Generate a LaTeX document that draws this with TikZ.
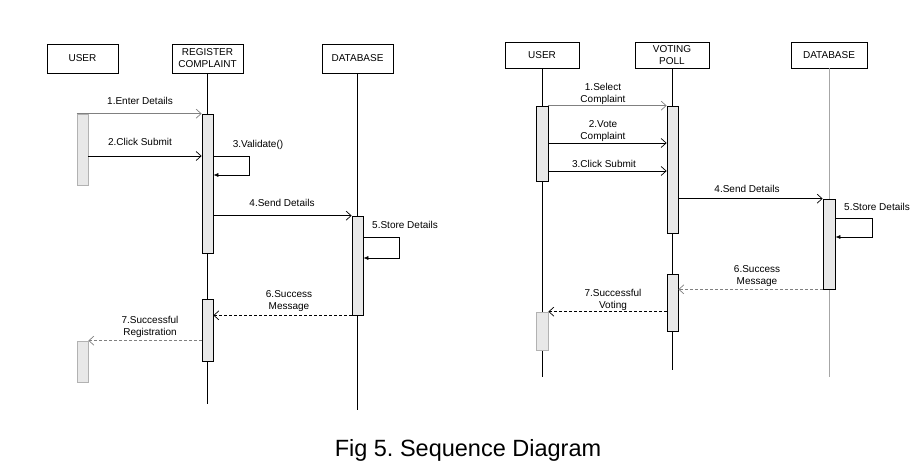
\documentclass[tikz,border=0pt]{standalone}
\usepackage{fontspec}
\setmainfont{Liberation Sans}
\usetikzlibrary{arrows.meta}
\frenchspacing

\begin{document}
\begin{tikzpicture}[
    x=1pt, y=-1pt,
    lifebox/.style={
        rectangle,
        draw=black,
        line width=0.7pt,
        minimum width=71pt,
        minimum height=29pt,
        inner sep=1pt,
        font=\fontsize{10}{12}\selectfont,
        align=center
    },
    actbar/.style={
        rectangle,
        draw=black,
        line width=0.7pt,
        fill=gray!18,
        minimum width=11pt,
        inner sep=0pt
    },
    msg_label/.style={
        font=\fontsize{10}{12}\selectfont,
        align=center
    },
    msg/.style={->, line width=0.7pt},
    reply/.style={->, line width=0.7pt, dash pattern=on 3pt off 2pt},
    selfmsg/.style={-{Latex[length=5pt,width=4pt]}, line width=0.7pt},
    >={Straight Barb[length=5pt,width=9pt]}
]
    \useasboundingbox (0,0) rectangle (916,462);

    % Left diagram: lifeline heads
    \node[lifebox] (userA) at (82.5, 58.5) {USER};
    \node[lifebox] (regA) at (207.5, 58.5) {REGISTER\\COMPLAINT};
    \node[lifebox] (dbA) at (357.5, 58.5) {DATABASE};

    % lifelines
    \coordinate (regA_end) at (207.5, 404);
    \coordinate (dbA_end) at (357.5, 410);
    \draw[line width=0.7pt] (regA.south) -- (regA_end);
    \draw[line width=0.7pt] (dbA.south) -- (dbA_end);

    % activation bars
    \node[actbar, draw=gray!60, minimum height=71pt] (ubarA1) at (82.5, 149.5) {};
    \node[actbar, draw=gray!60, minimum height=41pt] (ubarA2) at (82.5, 361.5) {};
    \node[actbar, minimum height=139pt] (rbarA1) at (207.5, 183.5) {};
    \node[actbar, minimum height=62pt] (rbarA2) at (207.5, 330) {};
    \node[actbar, minimum height=99pt] (dbbarA) at (357.5, 265.5) {};

    % message rows
    \coordinate (yA2) at (0, 156);
    \coordinate (yA3) at (0, 175);
    \coordinate (xA3) at (249, 0);
    \coordinate (yA5a) at (0, 237);
    \coordinate (yA5b) at (0, 258);
    \coordinate (xA5) at (399, 0);

    % messages
    \draw[msg, gray] (ubarA1.north west) -- (rbarA1.north west);
    \draw[msg] (ubarA1.east |- yA2) -- (rbarA1.west |- yA2);
    \draw[selfmsg] (rbarA1.east |- yA2) -- (xA3 |- yA2) -- (xA3 |- yA3) -- (rbarA1.east |- yA3);
    \draw[msg] (rbarA1.east |- dbbarA.north) -- (dbbarA.north west);
    \draw[selfmsg] (dbbarA.east |- yA5a) -- (xA5 |- yA5a) -- (xA5 |- yA5b) -- (dbbarA.east |- yA5b);
    \draw[reply] (dbbarA.south west) -- (rbarA2.east |- dbbarA.south);
    \draw[reply, gray] (rbarA2.west |- ubarA2.north) -- (ubarA2.north east);

    % labels
    \node[msg_label] (lA1) at (140, 101) {1.Enter Details};
    \node[msg_label] (lA2) at (140, 142) {2.Click Submit};
    \node[msg_label] (lA3) at (258, 145) {3.Validate()};
    \node[msg_label] (lA4) at (282, 203) {4.Send Details};
    \node[msg_label] (lA5) at (405, 225) {5.Store Details};
    \node[msg_label] (lA6) at (289, 301) {6.Success\\Message};
    \node[msg_label] (lA7) at (150, 327) {7.Successful\\Registration};

    % Right diagram: lifeline heads
    \node[lifebox, minimum width=74pt, minimum height=26pt] (userB) at (542, 55) {USER};
    \node[lifebox, minimum width=74pt, minimum height=26pt] (vpB) at (672, 55) {VOTING\\POLL};
    \node[lifebox, minimum width=76pt, minimum height=26pt] (dbB) at (829, 55) {DATABASE};

    % lifelines
    \coordinate (userB_end) at (542, 377);
    \coordinate (vpB_end) at (672, 370);
    \coordinate (dbB_end) at (829, 377);
    \draw[line width=0.7pt] (userB.south) -- (userB_end);
    \draw[line width=0.7pt] (vpB.south) -- (vpB_end);
    \draw[line width=0.7pt, gray!70] (dbB.south) -- (dbB_end);

    % activation bars
    \node[actbar, minimum width=12pt, minimum height=75pt] (ubarB1) at (542, 143.5) {};
    \node[actbar, draw=gray!60, minimum width=12pt, minimum height=38pt] (ubarB2) at (542, 331) {};
    \node[actbar, minimum height=127pt] (vbarB1) at (672.5, 169.5) {};
    \node[actbar, minimum height=57pt] (vbarB2) at (672.5, 302.5) {};
    \node[actbar, minimum width=12pt, minimum height=90pt] (dbbarB) at (829, 244) {};

    % message rows
    \coordinate (yB2) at (0, 143);
    \coordinate (yB3) at (0, 171);
    \coordinate (yB5a) at (0, 218);
    \coordinate (yB5b) at (0, 237);
    \coordinate (xB5) at (872, 0);

    % messages
    \draw[msg, gray] (ubarB1.north east) -- (vbarB1.north west);
    \draw[msg] (ubarB1.east |- yB2) -- (vbarB1.west |- yB2);
    \draw[msg] (ubarB1.east |- yB3) -- (vbarB1.west |- yB3);
    \draw[msg] (vbarB1.east |- dbbarB.north) -- (dbbarB.north west);
    \draw[selfmsg] (dbbarB.east |- yB5a) -- (xB5 |- yB5a) -- (xB5 |- yB5b) -- (dbbarB.east |- yB5b);
    \draw[reply, gray] (dbbarB.south west) -- (vbarB2.east |- dbbarB.south);
    \draw[reply] (vbarB2.west |- ubarB2.north) -- (ubarB2.north east);

    % labels
    \node[msg_label] (lB1) at (603, 94) {1.Select\\Complaint};
    \node[msg_label] (lB2) at (603, 131) {2.Vote\\Complaint};
    \node[msg_label] (lB3) at (604, 164) {3.Click Submit};
    \node[msg_label] (lB4) at (747, 189) {4.Send Details};
    \node[msg_label] (lB5) at (877, 207) {5.Store Details};
    \node[msg_label] (lB6) at (757, 276) {6.Success\\Message};
    \node[msg_label] (lB7) at (613, 300) {7.Successful\\Voting};

    % caption
    \node[font=\fontsize{23.5}{28}\selectfont, anchor=base] (caption) at (468, 456) {Fig 5. Sequence Diagram};

\end{tikzpicture}
\end{document}
